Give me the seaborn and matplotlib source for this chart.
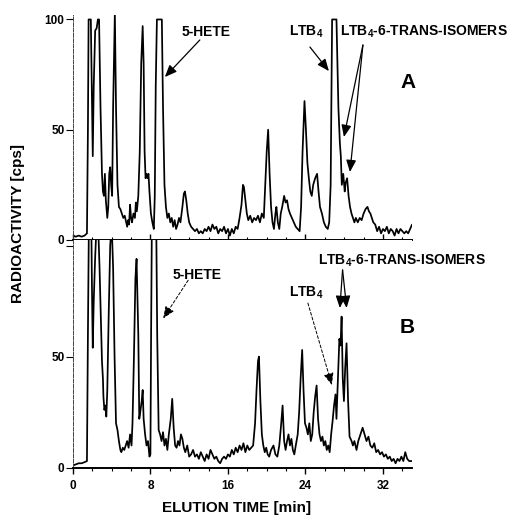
import matplotlib
matplotlib.use("Agg")
import matplotlib.pyplot as plt
import seaborn as sns
from matplotlib.ticker import MultipleLocator

# chromatogram A (top): (elution time [min], radioactivity [cps])
trace_a = [
    (0.0, 2), (0.3, 1.5), (0.6, 2), (0.9, 1.5), (1.2, 2), (1.45, 3), (1.55, 50),
    (1.62, 100), (1.85, 100), (1.95, 70), (2.05, 38), (2.15, 70), (2.3, 95), (2.45, 96),
    (2.58, 100), (2.7, 100), (2.85, 60), (3.0, 30), (3.1, 22), (3.2, 20), (3.3, 30),
    (3.4, 18), (3.55, 10), (3.65, 15), (3.75, 30), (3.85, 33), (3.95, 25), (4.05, 20),
    (4.15, 60), (4.33, 103), (4.45, 60), (4.6, 25), (4.75, 15), (4.9, 14), (5.05, 12),
    (5.2, 10), (5.35, 11), (5.5, 8), (5.6, 6), (5.7, 9), (5.8, 7), (5.9, 16), (6.0, 10),
    (6.1, 8), (6.25, 12), (6.4, 10), (6.5, 17), (6.6, 13), (6.75, 20), (6.9, 40),
    (7.05, 80), (7.2, 97), (7.3, 80), (7.4, 40), (7.5, 28), (7.6, 30), (7.7, 28),
    (7.8, 30), (7.9, 22), (8.05, 12), (8.2, 8), (8.35, 5), (8.45, 20), (8.55, 70),
    (8.67, 100), (9.18, 100), (9.3, 60), (9.45, 25), (9.6, 15), (9.75, 10), (9.9, 12),
    (10.05, 8), (10.2, 10), (10.35, 6), (10.5, 9), (10.65, 5), (10.8, 7), (10.95, 10),
    (11.1, 8), (11.3, 15), (11.45, 21), (11.56, 22), (11.7, 18), (11.85, 12), (12.0, 8),
    (12.2, 6), (12.4, 5), (12.6, 4), (12.8, 5), (13.0, 3), (13.2, 4), (13.4, 3),
    (13.6, 5), (13.8, 4), (14.0, 6), (14.2, 4), (14.4, 7), (14.6, 5), (14.8, 6),
    (15.0, 3), (15.2, 5), (15.4, 4), (15.6, 6), (15.8, 3), (16.0, 5), (16.2, 2),
    (16.4, 5), (16.6, 3), (16.8, 6), (17.0, 5), (17.2, 10), (17.4, 16), (17.55, 25),
    (17.65, 24), (17.8, 18), (17.95, 12), (18.1, 9), (18.3, 11), (18.5, 8), (18.7, 10),
    (18.9, 9), (19.1, 11), (19.3, 8), (19.5, 12), (19.7, 10), (19.85, 25), (20.0, 40),
    (20.15, 50), (20.3, 30), (20.45, 15), (20.6, 8), (20.75, 5), (20.9, 12), (21.0, 15),
    (21.15, 8), (21.3, 5), (21.45, 12), (21.6, 15), (21.8, 20), (21.95, 17), (22.1, 18),
    (22.25, 14), (22.4, 12), (22.6, 10), (22.8, 8), (23.0, 6), (23.2, 5), (23.4, 4),
    (23.55, 15), (23.7, 40), (23.9, 63), (24.05, 50), (24.2, 35), (24.35, 28),
    (24.5, 22), (24.65, 20), (24.8, 25), (25.0, 28), (25.2, 30), (25.35, 22), (25.5, 15),
    (25.7, 12), (25.9, 8), (26.1, 6), (26.3, 5), (26.45, 8), (26.6, 25), (26.75, 100),
    (27.2, 100), (27.4, 60), (27.55, 44), (27.65, 38), (27.75, 25), (27.9, 30),
    (28.05, 22), (28.15, 26), (28.3, 28), (28.45, 20), (28.6, 15), (28.75, 12),
    (28.9, 10), (29.05, 8), (29.2, 10), (29.4, 8), (29.6, 10), (29.8, 9), (30.0, 12),
    (30.2, 14), (30.4, 15), (30.55, 13), (30.7, 12), (30.85, 10), (31.0, 8), (31.2, 7),
    (31.4, 4), (31.6, 6), (31.8, 3), (32.0, 5), (32.2, 4), (32.4, 6), (32.6, 3),
    (32.8, 5), (33.0, 4), (33.2, 2), (33.4, 5), (33.6, 3), (33.8, 5), (34.0, 4),
    (34.2, 3), (34.4, 4), (34.6, 3), (34.8, 5), (35.0, 7),
]

# chromatogram B (bottom)
trace_b = [
    (0.0, 1), (0.3, 1.5), (0.6, 2), (0.9, 2), (1.2, 2.5), (1.45, 3), (1.55, 60),
    (1.65, 110), (1.9, 110), (1.97, 80), (2.05, 54), (2.15, 75), (2.3, 95), (2.45, 110),
    (2.6, 110), (2.75, 90), (2.9, 65), (3.0, 48), (3.1, 40), (3.15, 32), (3.25, 26),
    (3.35, 28), (3.45, 23), (3.55, 35), (3.7, 70), (3.85, 100), (4.0, 110), (4.15, 90),
    (4.3, 50), (4.45, 20), (4.6, 17), (4.75, 12), (4.9, 8), (5.0, 7), (5.15, 9),
    (5.3, 8), (5.45, 10), (5.6, 12), (5.75, 9), (5.9, 15), (6.05, 10), (6.15, 20),
    (6.3, 50), (6.45, 85), (6.57, 94), (6.75, 60), (6.85, 22), (6.95, 25), (7.1, 30),
    (7.2, 35), (7.3, 22), (7.45, 15), (7.6, 10), (7.75, 12), (7.9, 5), (8.0, 6),
    (8.07, 60), (8.15, 110), (8.6, 110), (8.7, 60), (8.85, 17), (9.0, 15), (9.15, 12),
    (9.3, 16), (9.45, 10), (9.6, 13), (9.75, 8), (9.9, 15), (10.1, 22), (10.25, 31),
    (10.4, 18), (10.55, 10), (10.7, 9), (10.85, 12), (11.0, 10), (11.15, 15),
    (11.3, 13), (11.45, 9), (11.6, 7), (11.8, 10), (12.0, 5), (12.2, 6), (12.4, 8),
    (12.6, 5), (12.8, 6), (13.0, 4), (13.2, 7), (13.4, 5), (13.6, 3), (13.8, 6),
    (14.0, 4), (14.2, 8), (14.4, 6), (14.6, 4), (14.8, 5), (15.0, 3), (15.2, 2),
    (15.4, 4), (15.6, 5), (15.8, 4), (16.0, 6), (16.2, 5), (16.4, 8), (16.6, 6),
    (16.8, 9), (17.0, 7), (17.2, 10), (17.4, 8), (17.6, 11), (17.8, 7), (18.0, 10),
    (18.2, 8), (18.4, 9), (18.6, 10), (18.8, 20), (18.95, 35), (19.1, 48), (19.2, 50),
    (19.35, 30), (19.5, 15), (19.65, 10), (19.8, 7), (19.95, 9), (20.1, 6), (20.26, 5),
    (20.45, 8), (20.7, 10), (20.9, 6), (21.1, 5), (21.3, 10), (21.5, 20), (21.64, 28),
    (21.8, 12), (21.95, 8), (22.1, 12), (22.25, 15), (22.4, 10), (22.55, 13), (22.7, 8),
    (22.85, 6), (23.0, 10), (23.2, 15), (23.35, 25), (23.5, 40), (23.66, 53),
    (23.8, 35), (23.95, 20), (24.1, 18), (24.25, 15), (24.4, 20), (24.55, 12),
    (24.7, 15), (24.85, 25), (25.0, 32), (25.15, 37), (25.3, 22), (25.45, 15),
    (25.6, 12), (25.75, 14), (25.9, 10), (26.05, 12), (26.2, 8), (26.35, 10), (26.5, 7),
    (26.65, 15), (26.8, 21), (26.95, 28), (27.1, 33), (27.2, 22), (27.35, 40),
    (27.5, 58), (27.62, 55), (27.73, 68), (27.85, 40), (27.97, 30), (28.1, 45),
    (28.24, 56), (28.4, 30), (28.55, 14), (28.76, 12), (28.9, 10), (29.05, 12),
    (29.27, 8), (29.45, 12), (29.6, 14), (29.75, 16), (29.9, 18), (30.1, 15), (30.3, 12),
    (30.5, 14), (30.7, 10), (30.9, 9), (31.1, 11), (31.3, 7), (31.5, 8), (31.7, 6),
    (31.9, 7), (32.1, 5), (32.3, 6), (32.5, 4), (32.7, 5), (32.9, 3), (33.1, 4),
    (33.3, 2), (33.5, 4), (33.7, 3), (33.9, 5), (34.1, 3), (34.3, 7), (34.5, 4),
    (34.7, 3), (35.0, 3),
]

x_ticks = [0, 8, 16, 24, 32]
y_ticks = [0, 50, 100]
y_labels_a = ["0", "50", "100"]
y_labels_b = ["0", "50", ""]

sns.set_theme(style="white")
plt.rcParams["font.family"] = ["Liberation Sans", "DejaVu Sans"]
plt.rcParams["font.weight"] = "bold"
plt.rcParams["text.color"] = "black"
plt.rcParams["axes.labelcolor"] = "black"
plt.rcParams["xtick.color"] = "black"
plt.rcParams["ytick.color"] = "black"
plt.rcParams["mathtext.fontset"] = "custom"
plt.rcParams["mathtext.rm"] = "Liberation Sans:bold"
plt.rcParams["mathtext.it"] = "Liberation Sans:bold"
plt.rcParams["mathtext.bf"] = "Liberation Sans:bold"

fig = plt.figure(figsize=(5.17, 5.19), dpi=100)
ax_a = fig.add_axes([0.141, 0.5376, 0.656, 0.4334])
ax_b = fig.add_axes([0.141, 0.0988, 0.656, 0.4388])

for ax, trace in [(ax_a, trace_a), (ax_b, trace_b)]:
    t = [p[0] for p in trace]
    v = [p[1] for p in trace]
    sns.lineplot(x=t, y=v, ax=ax, color="black", lw=1.25, estimator=None, sort=False)
    ax.set_xlim(0, 35)
    ax.set_facecolor("white")
    for s in ["top", "right"]:
        ax.spines[s].set_visible(False)
    ax.spines["bottom"].set_color("black")
    ax.spines["bottom"].set_linewidth(1.4)
    ax.spines["left"].set_color("#444444")
    ax.spines["left"].set_linewidth(0.7)
    ax.spines["left"].set_linestyle((0, (4, 1.5)))
    ax.set_yticks(y_ticks)
    ax.xaxis.set_minor_locator(MultipleLocator(2))
    ax.set_xticks(x_ticks)
    ax.tick_params(axis="y", direction="out", length=5, width=0.8, colors="black",
                   pad=1, labelsize=8.5, left=True)
    ax.tick_params(axis="x", which="major", direction="out", length=4, width=1,
                   colors="black", pad=5, labelsize=8.5, bottom=True)
    ax.tick_params(axis="x", which="minor", direction="out", length=2, width=0.8,
                   colors="black", bottom=True)
    ax.set_xlabel("")
    ax.set_ylabel("")

ax_a.set_ylim(0, 102)
ax_b.set_ylim(0, 102.5)
ax_a.set_yticklabels(y_labels_a)
ax_b.set_yticklabels(y_labels_b)
ax_a.set_xticklabels([])
ax_a.tick_params(axis="x", which="both", direction="in")
ax_b.set_xticklabels([str(x) for x in x_ticks])

solid = dict(arrowstyle="-|>,head_length=0.6,head_width=0.25", color="black", lw=0.9,
             shrinkA=0, shrinkB=0)
dashed = dict(solid, ls=(0, (3, 2)), lw=0.7)
txt = dict(fontsize=10, fontweight="bold", color="black", va="center")

# panel A labels
ax_a.text(13.73, 94.3, "5-HETE", ha="center", **txt)
ax_a.annotate("", xy=(9.49, 73.9), xytext=(13.1, 90.7), arrowprops=solid)
ax_a.text(24.05, 94.3, "LTB$_4$", ha="center", **txt)
ax_a.annotate("", xy=(26.42, 76.6), xytext=(24.46, 87.5), arrowprops=solid)
ax_a.text(27.55, 94.3, "LTB$_4$-6-TRANS-ISOMERS", ha="left", clip_on=False, **txt)
ax_a.annotate("", xy=(27.97, 46.7), xytext=(29.93, 88.4), arrowprops=solid)
ax_a.annotate("", xy=(28.59, 30.8), xytext=(29.93, 88.4), arrowprops=solid)
ax_a.text(34.57, 71.2, "A", ha="center", va="center", fontsize=15, fontweight="bold")

# panel B labels
ax_b.text(12.8, 86.7, "5-HETE", ha="center", **txt)
ax_b.annotate("", xy=(9.32, 67.2), xytext=(11.9, 84.4), arrowprops=dashed)
ax_b.text(24.1, 78.6, "LTB$_4$", ha="center", **txt)
ax_b.annotate("", xy=(26.73, 37.2), xytext=(24.25, 74.1), arrowprops=dashed)
ax_b.text(25.28, 93.2, "LTB$_4$-6-TRANS-ISOMERS", ha="left", clip_on=False, **txt)
ax_b.annotate("", xy=(27.55, 71.9), xytext=(27.83, 89.0), arrowprops=solid)
ax_b.annotate("", xy=(28.25, 71.9), xytext=(27.83, 89.0), arrowprops=solid)
ax_b.text(34.47, 63.3, "B", ha="center", va="center", fontsize=15, fontweight="bold")

fig.text(0.035, 0.57, "RADIOACTIVITY [cps]", rotation=90, ha="center", va="center",
         fontsize=11, fontweight="bold")
fig.text(0.457, 0.021, "ELUTION TIME [min]", ha="center", va="center",
         fontsize=11, fontweight="bold")

fig.savefig("out.png", dpi=100, facecolor="white")
